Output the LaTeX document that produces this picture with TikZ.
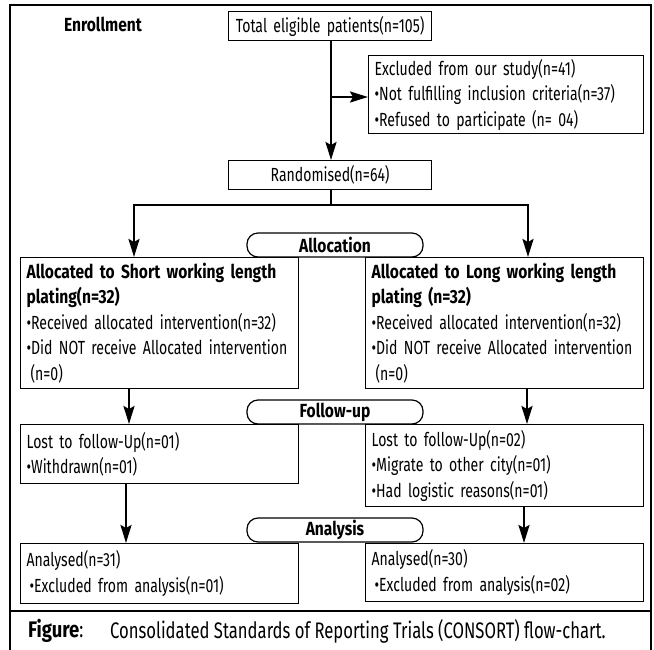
\documentclass[tikz,border=0pt]{standalone}
\usepackage{fontspec}
\setmainfont[FakeStretch=0.74,BoldFeatures={FakeStretch=0.82}]{Fira Sans}
\usetikzlibrary{positioning,arrows.meta,calc}

\begin{document}
\begin{tikzpicture}[
  x=1pt, y=-1pt,
  every node/.style={font=\fontsize{19}{25.5}\selectfont},
  lbl/.style={inner sep=0pt},
  box/.style={draw, line width=1.2pt, anchor=north west, align=left, inner xsep=6pt, inner ysep=2pt,
    execute at begin node={\hyphenpenalty=10000\exhyphenpenalty=10000}},
  phase/.style={draw, line width=1.2pt, rounded corners=11pt, minimum width=176pt, minimum height=24pt, inner sep=0pt, font=\fontsize{19}{25}\selectfont\bfseries},
  arr/.style={line width=2.4pt, -{Stealth[length=18pt,width=11pt,inset=3pt]}},
  plain/.style={line width=2.4pt}
]
\useasboundingbox (0,0) rectangle (654,649);

% --- outer frame and caption rule ---
\draw[line width=2pt] (10,652) -- (10,5) -- (651,5) -- (651,652);
\draw[line width=2pt] (10,611) -- (651,611);

% --- enrollment ---
\node[lbl, font=\fontsize{19}{25}\selectfont\bfseries] (enrol) at (103,24) {Enrollment};
\node[box, align=center, text width=191pt, minimum height=29pt] (total) at (228,11) {Total eligible patients(n=105)};
\node[box, text width=263pt, minimum height=78pt] (excl) at (368,55)
  {Excluded from our study(n=41)\\
   \textbullet Not fulfilling inclusion criteria(n=37)\\
   \textbullet Refused to participate (n= 04)};
\node[box, align=center, text width=191pt, minimum height=29pt] (rand) at (228,160) {Randomised(n=64)};

\coordinate (exfork) at (331,97);
\draw[arr] (total.south -| exfork) -- (rand.north -| exfork);
\draw[arr] (exfork) -- (excl.west |- exfork);

% --- allocation ---
\node[phase] (allocp) at (335,245) {Allocation};
\node[box, text width=266pt, minimum height=131pt] (lalloc) at (20,257)
  {\textbf{Allocated to Short working length}\\
   \textbf{plating(n=32)}\\
   \textbullet Received allocated intervention(n=32)\\
   \textbullet Did NOT receive Allocated intervention\\
   \hspace*{4pt}(n=0)};
\node[box, text width=266pt, minimum height=131pt] (ralloc) at (365,257)
  {\textbf{Allocated to Long working length}\\
   \textbf{plating (n=32)}\\
   \textbullet Received allocated intervention(n=32)\\
   \textbullet Did NOT receive Allocated intervention\\
   \hspace*{4pt}(n=0)};

\coordinate (split) at (331,205);
\coordinate (lsplit) at (134,205);
\coordinate (rsplit) at (528,205);
\draw[plain] (rand.south -| split) -- (split);
\draw[plain, line cap=rect] (lsplit) -- (rsplit);
\draw[arr] (lsplit) -- (lsplit |- lalloc.north);
\draw[arr] (rsplit) -- (rsplit |- ralloc.north);

% --- follow-up ---
\node[phase] (followp) at (335,412) {Follow-up};
\node[box, text width=266pt, minimum height=59pt] (lfollow) at (20,424)
  {Lost to follow-Up(n=01)\\
   \textbullet Withdrawn(n=01)};
\node[box, text width=266pt, minimum height=82pt] (rfollow) at (365,424)
  {Lost to follow-Up(n=02)\\
   \textbullet Migrate to other city(n=01)\\
   \textbullet Had logistic reasons(n=01)};

\coordinate (lfa) at (129,388);
\coordinate (rfa) at (527,388);
\draw[arr] (lfa) -- (lfa |- lfollow.north);
\draw[arr] (rfa) -- (rfa |- rfollow.north);

% --- analysis ---
\node[phase] (analp) at (335,530) {Analysis};
\node[box, text width=266pt, minimum height=60pt] (lanal) at (20,543)
  {Analysed(n=31)\\
   \hspace*{3pt}\textbullet Excluded from analysis(n=01)};
\node[box, text width=266pt, minimum height=58pt] (ranal) at (365,543)
  {Analysed(n=30)\\
   \hspace*{3pt}\textbullet Excluded from analysis(n=02)};

\coordinate (laa) at (126,483);
\coordinate (raa) at (524,506);
\draw[arr] (laa) -- (laa |- lanal.north);
\draw[arr] (raa) -- (raa |- ranal.north);

% --- caption ---
\node[lbl, anchor=west, font=\fontsize{22.5}{26}\selectfont] (figlbl) at (28,631) {\textbf{Figure}:};
\node[lbl, anchor=west, font=\fontsize{22.5}{26}\selectfont] (figtxt) at (110,631) {Consolidated Standards of Reporting Trials (CONSORT) flow-chart.};

\end{tikzpicture}
\end{document}
